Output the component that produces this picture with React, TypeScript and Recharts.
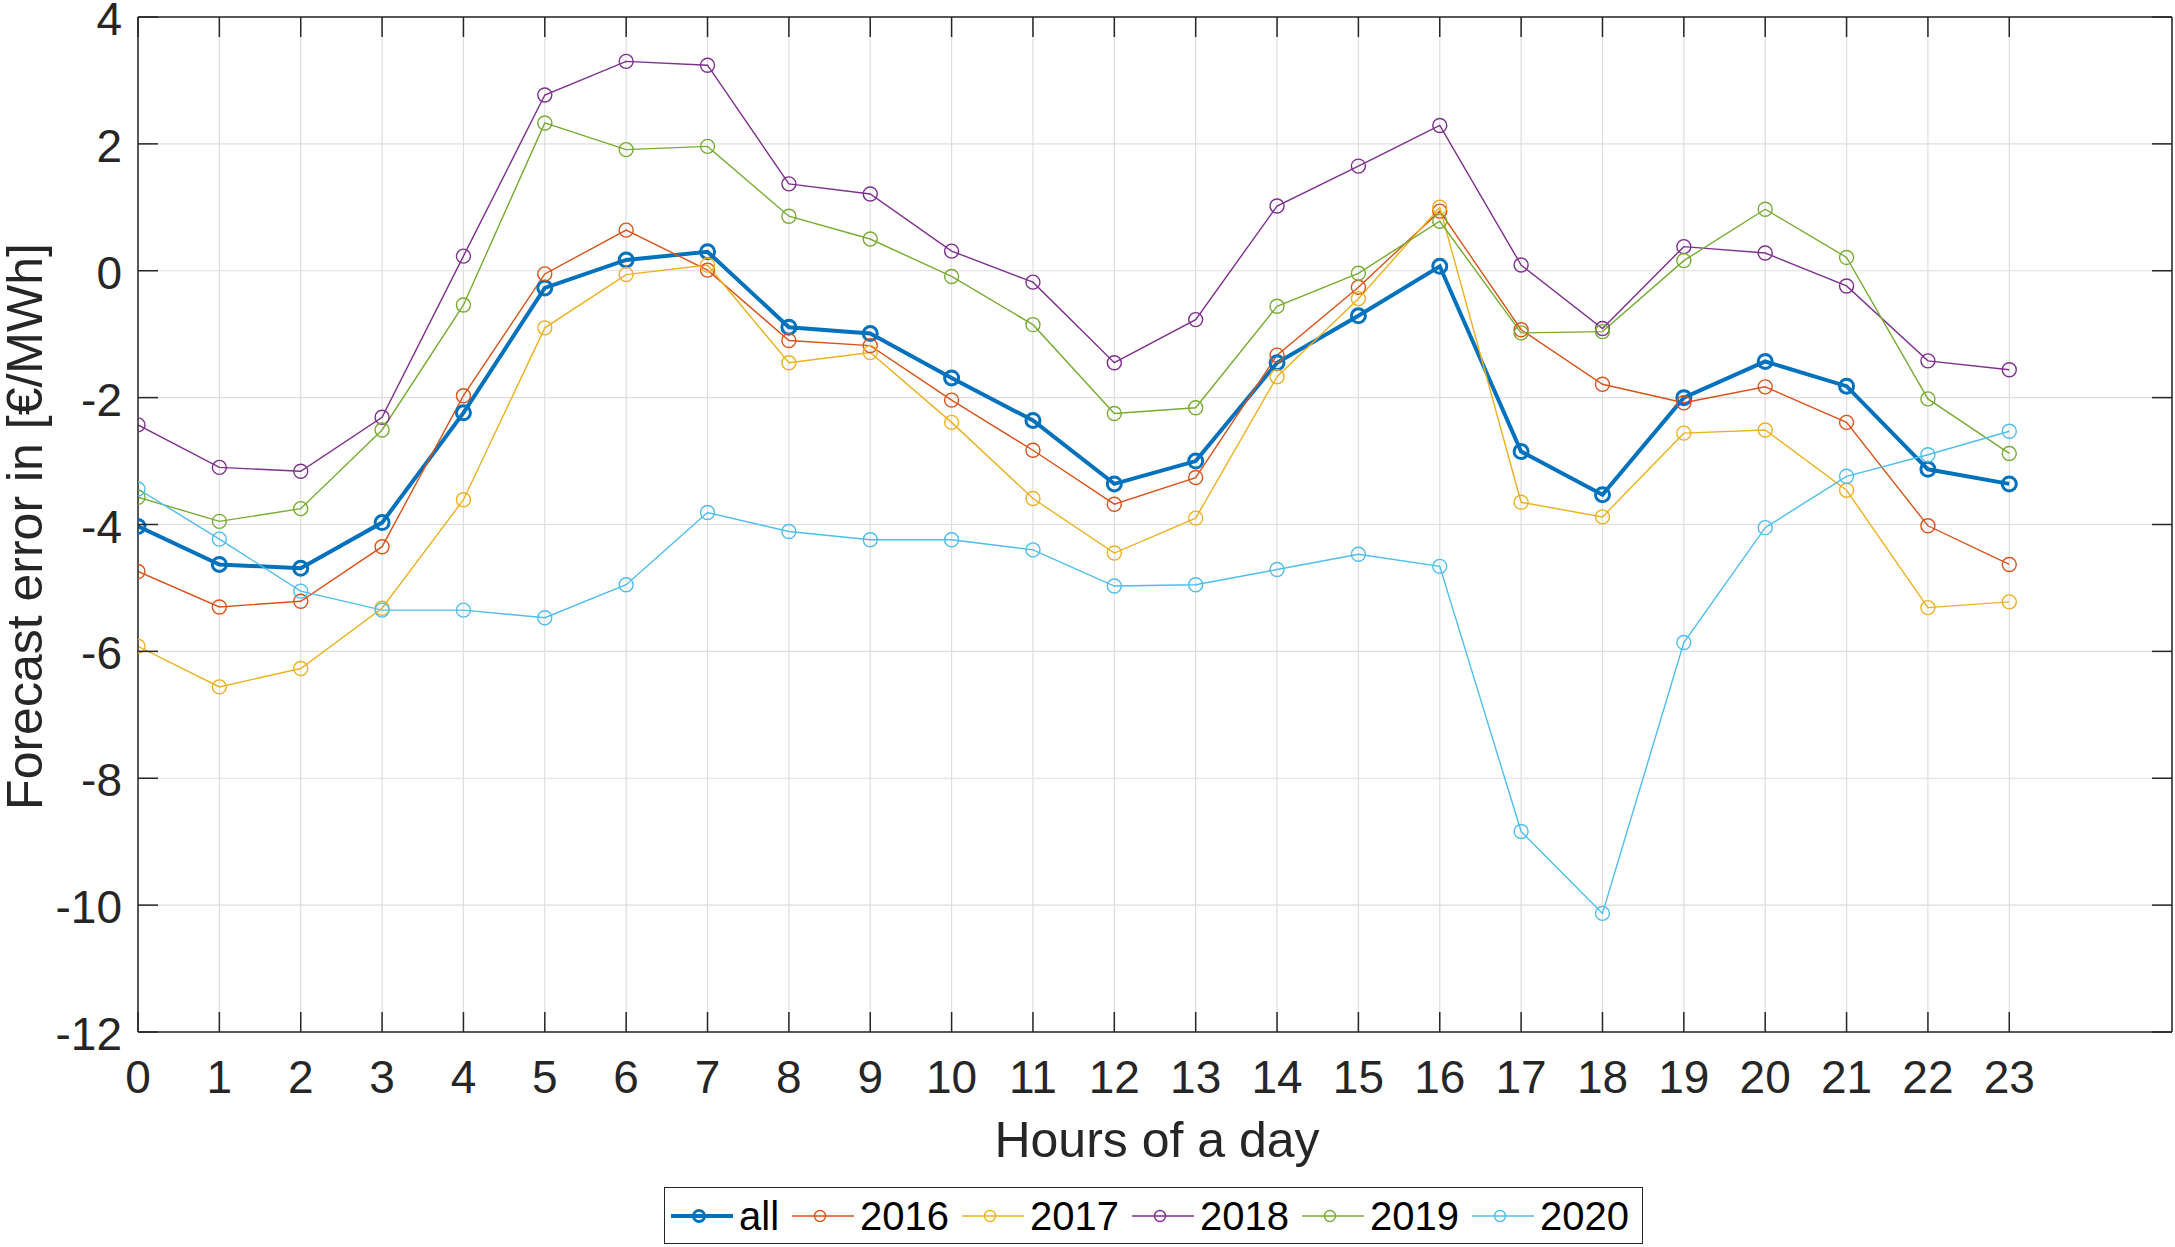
import React from "react";
import { LineChart, Line, XAxis, YAxis, CartesianGrid, ReferenceLine } from "recharts";

const hours = [0, 1, 2, 3, 4, 5, 6, 7, 8, 9, 10, 11, 12, 13, 14, 15, 16, 17, 18, 19, 20, 21, 22, 23];
const xTicks = hours;
const yTicks = [-12, -10, -8, -6, -4, -2, 0, 2, 4];

const allErr = [-4.03, -4.63, -4.69, -3.97, -2.24, -0.27, 0.17, 0.3, -0.89, -0.99, -1.69, -2.36, -3.36, -3.0, -1.45, -0.71, 0.07, -2.85, -3.53, -2.0, -1.43, -1.82, -3.13, -3.36];
const err2016 = [-4.74, -5.3, -5.21, -4.35, -1.97, -0.05, 0.64, 0.01, -1.1, -1.18, -2.04, -2.83, -3.68, -3.26, -1.33, -0.26, 0.94, -0.93, -1.79, -2.08, -1.83, -2.39, -4.02, -4.63];
const err2017 = [-5.92, -6.56, -6.27, -5.32, -3.61, -0.9, -0.06, 0.09, -1.45, -1.29, -2.39, -3.59, -4.45, -3.9, -1.67, -0.44, 1.0, -3.65, -3.88, -2.56, -2.51, -3.46, -5.31, -5.22];
const err2018 = [-2.43, -3.1, -3.16, -2.31, 0.23, 2.77, 3.3, 3.24, 1.37, 1.21, 0.31, -0.18, -1.45, -0.77, 1.02, 1.65, 2.29, 0.09, -0.91, 0.38, 0.28, -0.24, -1.42, -1.56];
const err2019 = [-3.57, -3.95, -3.75, -2.51, -0.54, 2.33, 1.91, 1.96, 0.86, 0.5, -0.09, -0.85, -2.25, -2.16, -0.56, -0.04, 0.78, -0.98, -0.96, 0.16, 0.97, 0.21, -2.02, -2.88];
const err2020 = [-3.44, -4.23, -5.05, -5.35, -5.35, -5.47, -4.95, -3.81, -4.11, -4.24, -4.24, -4.4, -4.97, -4.95, -4.71, -4.47, -4.66, -8.84, -10.13, -5.86, -4.05, -3.24, -2.9, -2.53];

const series = [
  { key: "all", name: "all", values: allErr, color: "#0072BD", width: 4, dotWidth: 3 },
  { key: "y2016", name: "2016", values: err2016, color: "#D95319", width: 1.4, dotWidth: 1.4 },
  { key: "y2017", name: "2017", values: err2017, color: "#EDB120", width: 1.4, dotWidth: 1.4 },
  { key: "y2018", name: "2018", values: err2018, color: "#7E2F8E", width: 1.4, dotWidth: 1.4 },
  { key: "y2019", name: "2019", values: err2019, color: "#77AC30", width: 1.4, dotWidth: 1.4 },
  { key: "y2020", name: "2020", values: err2020, color: "#4DBEEE", width: 1.4, dotWidth: 1.4 },
];

const data = hours.map((h, i) => {
  const row: Record<string, number> = { hour: h };
  series.forEach((s) => {
    row[s.key] = s.values[i];
  });
  return row;
});

const W = 2175;
const H = 1247;
const MARGIN = { top: 17, right: 3, left: 0, bottom: 155 };
const X_AXIS_H = 60;
const Y_AXIS_W = 138;
const PLOT_TOP = MARGIN.top;
const PLOT_BOTTOM = H - MARGIN.bottom - X_AXIS_H;
const PLOT_LEFT = MARGIN.left + Y_AXIS_W;
const PLOT_RIGHT = W - MARGIN.right;
const TICK_LEN = 20;

const FONT = "'Liberation Sans', Arial, Helvetica, sans-serif";
const AXIS = "#262626";
const boxLine = { stroke: AXIS, strokeWidth: 1.5 };

// MATLAB-style inward ticks on both sides + label
function XTick({ x, payload }: any) {
  return (
    <g>
      <line x1={x} x2={x} y1={PLOT_BOTTOM} y2={PLOT_BOTTOM - TICK_LEN} stroke={AXIS} strokeWidth={1.5} />
      <line x1={x} x2={x} y1={PLOT_TOP} y2={PLOT_TOP + TICK_LEN} stroke={AXIS} strokeWidth={1.5} />
      <text x={x} y={PLOT_BOTTOM + 61} textAnchor="middle" fontSize={46} fontFamily={FONT} fill={AXIS}>
        {payload.value}
      </text>
    </g>
  );
}

function YTick({ y, payload }: any) {
  return (
    <g>
      <line x1={PLOT_LEFT} x2={PLOT_LEFT + TICK_LEN} y1={y} y2={y} stroke={AXIS} strokeWidth={1.5} />
      <line x1={PLOT_RIGHT} x2={PLOT_RIGHT - TICK_LEN} y1={y} y2={y} stroke={AXIS} strokeWidth={1.5} />
      <text x={PLOT_LEFT - 16} y={y + 18} textAnchor="end" fontSize={46} fontFamily={FONT} fill={AXIS}>
        {payload.value}
      </text>
    </g>
  );
}

function YLabel({ viewBox }: any) {
  const cy = viewBox.y + viewBox.height / 2 + 2;
  return (
    <text
      x={42}
      y={cy}
      transform={`rotate(-90, 42, ${cy})`}
      textAnchor="middle"
      fontSize={50}
      fontFamily={FONT}
      fill={AXIS}
    >
      Forecast error in [€/MWh]
    </text>
  );
}

function XLabel({ viewBox }: any) {
  const cx = viewBox.x + viewBox.width / 2 + 2;
  return (
    <text x={cx} y={PLOT_BOTTOM + 125} textAnchor="middle" fontSize={50} fontFamily={FONT} fill={AXIS}>
      Hours of a day
    </text>
  );
}

function ChartLegend() {
  return (
    <div
      style={{
        position: "absolute",
        left: 664,
        top: 1187,
        width: 979,
        height: 57,
        boxSizing: "border-box",
        border: `1.5px solid ${AXIS}`,
        background: "#fff",
        display: "flex",
        alignItems: "center",
        paddingLeft: 6,
        fontFamily: FONT,
        fontSize: 40,
        color: "#000",
      }}
    >
      {series.map((s) => (
        <div key={s.key} style={{ display: "flex", alignItems: "center", marginRight: 13 }}>
          <svg width={62} height={24}>
            <line x1={0} y1={12} x2={62} y2={12} stroke={s.color} strokeWidth={s.width} />
            <circle cx={28} cy={12} r={5.5} fill="none" stroke={s.color} strokeWidth={s.dotWidth} />
          </svg>
          <span style={{ marginLeft: 6, lineHeight: "40px" }}>{s.name}</span>
        </div>
      ))}
    </div>
  );
}

export default function App() {
  return (
    <div style={{ position: "absolute", left: 0, top: 0, width: W, height: H, background: "#fff" }}>
      <LineChart width={W} height={H} data={data} margin={MARGIN}>
        <CartesianGrid stroke="#dedede" strokeWidth={1.2} />
        <XAxis
          dataKey="hour"
          type="number"
          domain={[0, 25]}
          allowDataOverflow
          ticks={xTicks}
          interval={0}
          height={X_AXIS_H}
          axisLine={boxLine}
          tickLine={false}
          tick={<XTick />}
          label={<XLabel />}
        />
        <YAxis
          type="number"
          domain={[-12, 4]}
          allowDataOverflow
          ticks={yTicks}
          interval={0}
          width={Y_AXIS_W}
          axisLine={boxLine}
          tickLine={false}
          tick={<YTick />}
          label={<YLabel />}
        />
        {/* top and right edges of the box */}
        <ReferenceLine y={4} stroke={AXIS} strokeWidth={1.5} />
        <ReferenceLine x={25} stroke={AXIS} strokeWidth={1.5} />
        {series.map((s) => (
          <Line
            key={s.key}
            type="linear"
            dataKey={s.key}
            name={s.name}
            stroke={s.color}
            strokeWidth={s.width}
            dot={{ r: 7, fill: "none", stroke: s.color, strokeWidth: s.dotWidth }}
            activeDot={false}
            isAnimationActive={false}
          />
        ))}
      </LineChart>
      <ChartLegend />
    </div>
  );
}
